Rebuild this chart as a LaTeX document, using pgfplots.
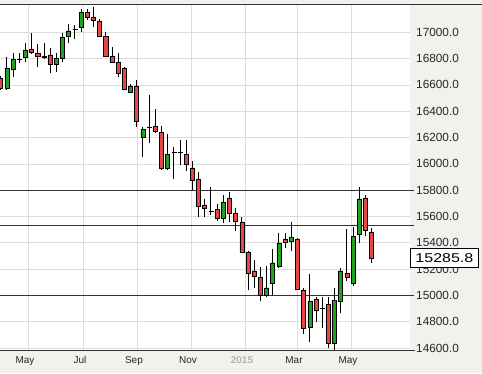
\documentclass[border=0pt]{standalone}
\usepackage{pgfplots}
\pgfplotsset{compat=1.18}
\usepackage{pgfplotstable}
\usepackage{fontspec}
\setmainfont{Liberation Sans}
\definecolor{bgc}{HTML}{F2F1EE}
\definecolor{gridc}{HTML}{DCDCDC}
\definecolor{upc}{HTML}{22A022}
\definecolor{dnc}{HTML}{E84545}
\definecolor{linec}{HTML}{333333}

\pgfplotstableread{
i o h l c
0 16652.5 16667.7 16561.4 16576.6
1 16576.6 16812.0 16561.4 16728.5
2 16720.9 16842.4 16660.1 16796.8
3 16793.0 16842.4 16766.5 16796.0
4 16812.0 16918.4 16774.0 16865.2
5 16872.8 16994.3 16834.8 16850.0
6 16842.4 16910.8 16736.1 16819.6
7 16819.6 16918.4 16796.8 16808.2
8 16827.2 16880.4 16690.5 16758.9
9 16758.9 16842.4 16698.1 16804.4
10 16804.4 16994.3 16774.0 16963.9
11 16971.5 17062.7 16918.4 17009.5
12 17024.7 17055.0 16948.8 17022.0
13 17039.9 17176.6 17001.9 17153.8
14 17153.8 17176.6 17093.1 17115.9
15 17115.9 17191.8 17039.9 17093.1
16 17085.5 17100.7 16963.9 16971.5
17 16971.5 17001.9 16812.0 16819.6
18 16819.6 16888.0 16766.5 16774.0
19 16774.0 16842.4 16660.1 16690.5
20 16728.5 16736.1 16561.4 16569.0
21 16546.2 16606.9 16538.6 16591.7
22 16591.7 16637.3 16280.3 16325.9
23 16204.3 16280.3 16052.4 16265.1
24 16280.3 16523.4 16158.8 16278.0
25 16287.9 16417.0 16234.7 16249.9
26 16242.3 16287.9 15953.7 15968.9
27 15968.9 16227.1 15953.7 16075.2
28 16090.4 16128.4 15885.3 16088.0
29 16090.4 16181.6 15991.7 16088.0
30 16075.2 16181.6 15946.1 15999.3
31 15968.9 16022.0 15801.8 15877.7
32 15885.3 15938.5 15596.7 15680.2
33 15687.8 15733.4 15596.7 15665.0
34 15642.2 15824.5 15611.9 15640.0
35 15657.4 15695.4 15566.3 15589.1
36 15589.1 15763.8 15551.1 15710.6
37 15741.0 15786.6 15558.7 15627.1
38 15627.1 15665.0 15490.3 15566.3
39 15558.7 15596.7 15325.0 15330.8
40 15330.8 15335.0 15042.2 15171.3
41 15186.5 15270.0 15057.4 15148.5
42 15140.9 15216.9 14958.6 15004.2
43 15004.2 15224.5 14989.0 15057.4
44 15095.3 15353.6 14996.6 15247.3
45 15224.5 15475.1 15209.3 15399.2
46 15429.6 15475.1 15361.2 15406.8
47 15414.4 15558.7 15338.4 15444.7
48 15429.6 15437.2 15042.2 15049.8
49 15042.2 15057.4 14707.9 14753.5
50 14761.1 15163.7 14647.2 14958.6
51 14973.8 14989.0 14799.1 14890.2
52 14905.4 14989.0 14753.5 14903.0
53 14935.8 14989.0 14601.6 14639.6
54 14639.6 15057.4 14571.2 14966.2
55 14958.6 15209.3 14867.5 15186.5
56 15171.3 15505.5 15110.5 15140.9
57 15095.3 15520.7 15072.5 15452.3
58 15467.5 15824.5 15399.2 15733.4
59 15741.0 15763.8 15452.3 15497.9
60 15482.7 15513.1 15247.3 15285.8
}\candles

\begin{document}
\begin{tikzpicture}
\fill[bgc] (0pt,-23pt) rectangle (482pt,350pt);
\begin{axis}[
  at={(0pt,0pt)}, anchor=south west,
  scale only axis, width=410pt, height=345pt,
  xmin=-0.113, xmax=66.2, ymin=14586.4, ymax=17207,
  axis background/.style={fill=white},
  axis line style={draw=none},
  ytick={14600,14800,...,17000},
  scaled y ticks=false,
  yticklabel pos=right,
  ytick pos=right,
  xtick={4.415,13.31,22.04,30.78,39.51,47.92,56.66},
  xticklabels={May,Jul,Sep,Nov,{\textcolor[HTML]{B4B4B4}{\bfseries 2015}},Mar,May},
  major tick length=0pt,
  tick style={draw=none},
  xmajorgrids, ymajorgrids,
  grid style={gridc, line width=0.8pt},
  /pgf/number format/.cd, fixed, fixed zerofill, precision=1, 1000 sep={}, assume math mode=true,
  /pgfplots/.cd,
  yticklabel style={font=\fontsize{11.8}{12}\selectfont, anchor=west, inner sep=0pt, xshift=6pt, text=black!85},
  xticklabel style={font=\fontsize{10}{11}\selectfont, anchor=base, inner sep=0pt, yshift=-13.3pt, xshift=-3pt, text=black!85},
]
\addplot[linec, line width=1pt, forget plot] coordinates {(-1,15800) (67,15800)};
\addplot[linec, line width=1pt, forget plot] coordinates {(-1,15530) (67,15530)};
\addplot[linec, line width=1pt, forget plot] coordinates {(-1,15000) (67,15000)};
\addplot[draw=none, mark=none, forget plot,
  error bars/.cd, y dir=plus, y explicit, error mark=none,
  error bar style={draw=black, line width=0.9pt}]
  table[x=i, y=l, y error expr=\thisrow{h}-\thisrow{l}] {\candles};
\addplot[ybar, bar width=0.65, bar shift=0pt, stack plots=y, draw=none, fill=none, forget plot]
  table[x=i, y expr={min(\thisrow{o},\thisrow{c})}] {\candles};
\addplot[ybar, bar width=0.65, bar shift=0pt, stack plots=y, draw=black, line width=0.6pt, fill=upc, forget plot]
  table[x=i, y expr={max(\thisrow{c}-\thisrow{o},0)}] {\candles};
\addplot[ybar, bar width=0.65, bar shift=0pt, stack plots=y, draw=black, line width=0.6pt, fill=dnc, forget plot]
  table[x=i, y expr={max(\thisrow{o}-\thisrow{c},0)}] {\candles};
\coordinate (lastp) at (axis cs:66.2,15285.8);
\coordinate (s1) at (axis cs:66.2,15800);
\coordinate (s2) at (axis cs:66.2,15530);
\coordinate (s3) at (axis cs:66.2,15000);
\end{axis}
\draw[linec, line width=1pt] (s1) -- ++(4pt,0pt);
\draw[linec, line width=1pt] (s2) -- ++(4pt,0pt);
\draw[linec, line width=1pt] (s3) -- ++(4pt,0pt);
\draw[linec, line width=1pt] (0pt,345pt) -- (482pt,345pt);
\draw[linec, line width=1pt] (0pt,0pt) -- (415pt,0pt);
\node[anchor=west, draw=black, fill=white, line width=0.8pt, minimum width=68pt, minimum height=19pt, inner sep=0pt]
  at (lastp) {\fontsize{12.8}{13}\selectfont\scalebox{1.25}[1]{15285.8}};
\pgfresetboundingbox
\useasboundingbox (0pt,-23pt) rectangle (482pt,350pt);
\end{tikzpicture}
\end{document}
